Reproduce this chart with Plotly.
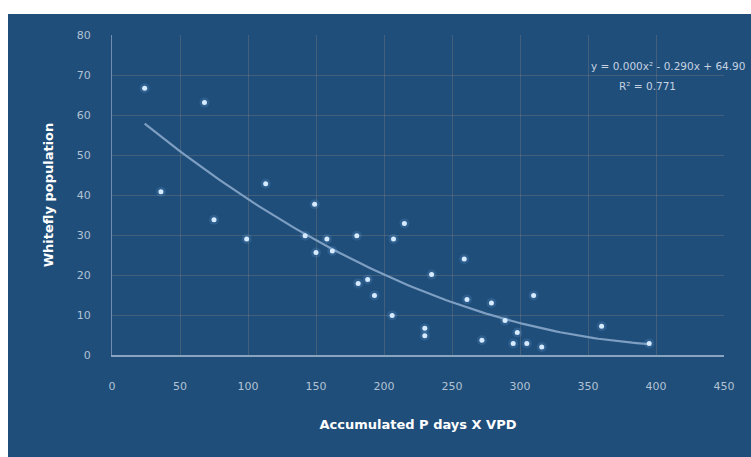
import numpy as np
import plotly.graph_objects as go

# Data
acc_pdays_vpd = [24, 68, 36, 75, 99, 113, 142, 149, 150, 158, 162, 180, 181, 188, 193,
                 206, 207, 215, 230, 230, 235, 259, 261, 272, 279, 289, 295, 298, 305,
                 310, 316, 360, 395]
whitefly_pop = [66.7, 63.1, 40.8, 33.8, 29, 42.8, 29.8, 37.7, 25.6, 29, 26, 29.8, 17.9,
                18.9, 14.9, 9.9, 29, 32.9, 6.7, 4.8, 20.1, 24, 13.9, 3.7, 13, 8.6, 2.9,
                5.6, 2.9, 14.9, 2, 7.2, 2.9]
x_ticks = [0, 50, 100, 150, 200, 250, 300, 350, 400, 450]
y_ticks = [0, 10, 20, 30, 40, 50, 60, 70, 80]
equation_text = "y = 0.000x² - 0.290x + 64.90"
r2_text = "R² = 0.771"

BG = "#1f4e7a"
TICK = "#b3c2d3"
GRID = "rgba(170,150,130,0.25)"

coef = np.polyfit(acc_pdays_vpd, whitefly_pop, 2)
xf = np.linspace(min(acc_pdays_vpd), max(acc_pdays_vpd), 120)
yf = np.polyval(coef, xf)

fig = go.Figure()
fig.add_trace(go.Scatter(x=xf, y=yf, mode="lines",
                         line=dict(color="#7e9fc2", width=2.2), hoverinfo="skip"))
fig.add_trace(go.Scatter(x=acc_pdays_vpd, y=whitefly_pop, mode="markers",
                         marker=dict(size=10, color="rgba(110,170,235,0.18)", line=dict(width=0)),
                         hoverinfo="skip"))
fig.add_trace(go.Scatter(x=acc_pdays_vpd, y=whitefly_pop, mode="markers",
                         marker=dict(size=5, color="#d6ebff", line=dict(width=0))))

fig.update_layout(
    width=751, height=457,
    margin=dict(l=112, r=27, t=35, b=102),
    paper_bgcolor=BG, plot_bgcolor=BG,
    showlegend=False,
    font=dict(family="DejaVu Sans", color=TICK, size=11),
    shapes=[
        dict(type="rect", xref="paper", yref="paper", x0=-0.3, x1=1.2,
             y0=1 + 21 / 320, y1=1.3, fillcolor="white", line=dict(width=0), layer="below"),
        dict(type="rect", xref="paper", yref="paper", x0=-0.3, x1=-104 / 612,
             y0=-0.5, y1=1.3, fillcolor="white", line=dict(width=0), layer="below"),
    ],
    annotations=[
        dict(text=equation_text, xref="paper", yref="paper", x=1 + 23 / 612, y=1 - 31 / 320,
             xanchor="right", yanchor="middle", showarrow=False,
             font=dict(size=10.5, color="#c6d2e0")),
        dict(text=r2_text, xref="paper", yref="paper", x=(647 - 112) / 612, y=1 - 51 / 320,
             xanchor="center", yanchor="middle", showarrow=False,
             font=dict(size=10.5, color="#c6d2e0")),
    ],
)
fig.update_xaxes(range=[0, 450], tickvals=x_ticks, showgrid=True, gridcolor=GRID,
                 gridwidth=1, zeroline=False, showline=True, linecolor="#8aa3bf",
                 linewidth=1.5, ticks="", ticklabelstandoff=20,
                 title=dict(text="<b>Accumulated P days X VPD</b>", standoff=28,
                            font=dict(size=13, color="white")))
fig.update_yaxes(range=[0, 80], tickvals=y_ticks, showgrid=True, gridcolor=GRID,
                 gridwidth=1, zeroline=False, showline=True, linecolor="#6f8db0",
                 linewidth=1, ticks="", ticklabelstandoff=18,
                 title=dict(text="<b>Whitefly population</b>", standoff=20,
                            font=dict(size=13, color="white")))

fig.write_html("out.html")
